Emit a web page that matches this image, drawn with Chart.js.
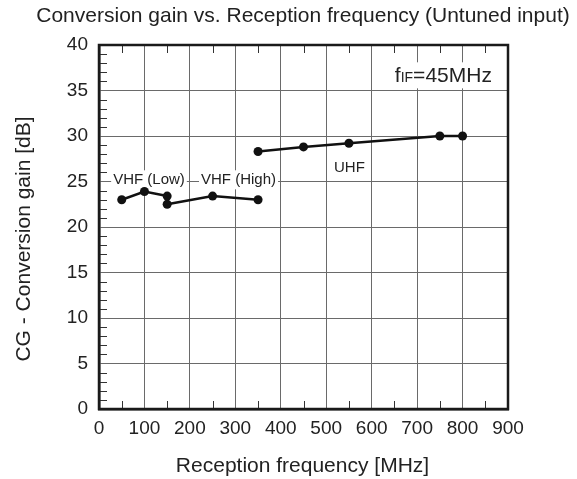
<!DOCTYPE html>
<html>
<head>
<meta charset="utf-8">
<script src="https://cdn.jsdelivr.net/npm/chart.js@4.4.1/dist/chart.umd.min.js"></script>
<style>
  html, body { margin: 0; padding: 0; background: #fff; }
  canvas { display: block; }
</style>
</head>
<body>
<canvas id="c" width="577" height="479"></canvas>
<script>
// ---- data ----
const vhfLowFreq  = [50, 100, 150];
const vhfLowGain  = [23.0, 23.9, 23.4];
const vhfHighFreq = [150, 250, 350];
const vhfHighGain = [22.5, 23.4, 23.0];
const uhfFreq     = [350, 450, 550, 750, 800];
const uhfGain     = [28.3, 28.8, 29.2, 30.0, 30.0];

const xTickValues = [0, 100, 200, 300, 400, 500, 600, 700, 800, 900];
const yTickValues = [0, 5, 10, 15, 20, 25, 30, 35, 40];

const chartTitle = 'Conversion gain vs. Reception frequency (Untuned input)';
const xTitle = 'Reception frequency [MHz]';
const yTitle = 'CG - Conversion gain [dB]';
const bandLabels = ['VHF (Low)', 'VHF (High)', 'UHF'];

const FONT = "'Liberation Sans', Arial, Helvetica, sans-serif";
const TXT = '#222';

function pts(xs, ys) { return xs.map((x, i) => ({ x: x, y: ys[i] })); }

function ds(xs, ys) {
  return {
    data: pts(xs, ys),
    borderColor: '#111',
    backgroundColor: '#111',
    borderWidth: 2.5,
    pointRadius: 4.5,
    pointHoverRadius: 4.5,
    pointBorderWidth: 0,
    pointBackgroundColor: '#111',
    showLine: true,
    tension: 0
  };
}

const decorations = {
  id: 'decorations',
  beforeDatasetsDraw(chart) {
    const ctx = chart.ctx;
    const a = chart.chartArea;
    const xs = chart.scales.x, ys = chart.scales.y;
    ctx.save();

    // minor ticks
    ctx.strokeStyle = '#333';
    ctx.lineWidth = 1;
    ctx.beginPath();
    for (let v = 1; v < 40; v++) {
      if (v % 5 === 0) continue;
      const y = Math.round(ys.getPixelForValue(v)) + 0.5;
      ctx.moveTo(a.left, y); ctx.lineTo(a.left + 8, y);
    }
    for (let f = 50; f < 900; f += 100) {
      const x = Math.round(xs.getPixelForValue(f)) + 0.5;
      ctx.moveTo(x, a.bottom); ctx.lineTo(x, a.bottom - 8);
      ctx.moveTo(x, a.top); ctx.lineTo(x, a.top + 8);
    }
    ctx.stroke();

    // frame
    ctx.strokeStyle = '#1a1a1a';
    ctx.lineWidth = 2.5;
    ctx.strokeRect(a.left, a.top, a.right - a.left, a.bottom - a.top);

    // band labels with white boxes
    ctx.font = '15px ' + FONT;
    ctx.textBaseline = 'alphabetic';
    ctx.textAlign = 'center';
    const bandPos = [[110, 25.35], [307, 25.35], [551, 26.75]];
    bandLabels.forEach((t, i) => {
      const cx = xs.getPixelForValue(bandPos[i][0]);
      const by = ys.getPixelForValue(bandPos[i][1]) + 6;
      const w = ctx.measureText(t).width;
      ctx.fillStyle = '#fff';
      ctx.fillRect(cx - w / 2 - 2, by - 14, w + 4, 19);
      ctx.fillStyle = TXT;
      ctx.fillText(t, cx, by);
    });

    // fIF=45MHz label
    const fx = xs.getPixelForValue(651);
    const fy = ys.getPixelForValue(35.9);
    ctx.textAlign = 'left';
    ctx.font = '21px ' + FONT;
    const w1 = ctx.measureText('f').width;
    ctx.font = '14px ' + FONT;
    const w2 = ctx.measureText('IF').width;
    ctx.font = '21px ' + FONT;
    const w3 = ctx.measureText('=45MHz').width;
    ctx.fillStyle = '#fff';
    ctx.fillRect(fx - 4, fy - 20, w1 + w2 + w3 + 8, 26);
    ctx.fillStyle = TXT;
    ctx.fillText('f', fx, fy);
    ctx.font = '14px ' + FONT;
    ctx.fillText('IF', fx + w1, fy);
    ctx.font = '21px ' + FONT;
    ctx.fillText('=45MHz', fx + w1 + w2, fy);
    ctx.restore();
  },
  afterDraw(chart) {
    const ctx = chart.ctx;
    ctx.save();
    ctx.fillStyle = TXT;
    ctx.font = '21px ' + FONT;
    ctx.textAlign = 'center';
    ctx.textBaseline = 'alphabetic';
    ctx.fillText(chartTitle, 303, 22);
    ctx.fillText(xTitle, 302.5, 472);
    ctx.translate(30, 239);
    ctx.rotate(-Math.PI / 2);
    ctx.fillText(yTitle, 0, 0);
    ctx.restore();
  }
};

Chart.defaults.font.family = FONT;

new Chart(document.getElementById('c'), {
  type: 'scatter',
  data: {
    datasets: [
      ds(vhfLowFreq, vhfLowGain),
      ds(vhfHighFreq, vhfHighGain),
      ds(uhfFreq, uhfGain)
    ]
  },
  options: {
    responsive: false,
    animation: false,
    layout: { padding: { top: 45, right: 69, left: 0, bottom: 0 } },
    plugins: { legend: { display: false }, tooltip: { enabled: false }, title: { display: false } },
    scales: {
      x: {
        type: 'linear', min: 0, max: 900,
        afterBuildTicks(s) { s.ticks = xTickValues.map(v => ({ value: v })); },
        afterFit(s) { s.height = 70; },
        grid: { color: '#6a6a6a', lineWidth: 1, drawTicks: false },
        border: { display: true, color: '#1a1a1a', width: 2.5 },
        ticks: { color: TXT, font: { size: 19 }, padding: 8, maxRotation: 0 }
      },
      y: {
        type: 'linear', min: 0, max: 40,
        afterBuildTicks(s) { s.ticks = yTickValues.map(v => ({ value: v })); },
        afterFit(s) { s.width = 99; },
        grid: { color: '#6a6a6a', lineWidth: 1, drawTicks: false },
        border: { display: true, color: '#1a1a1a', width: 2.5 },
        ticks: { color: TXT, font: { size: 19 }, padding: 11 }
      }
    }
  },
  plugins: [decorations]
});
</script>
</body>
</html>
